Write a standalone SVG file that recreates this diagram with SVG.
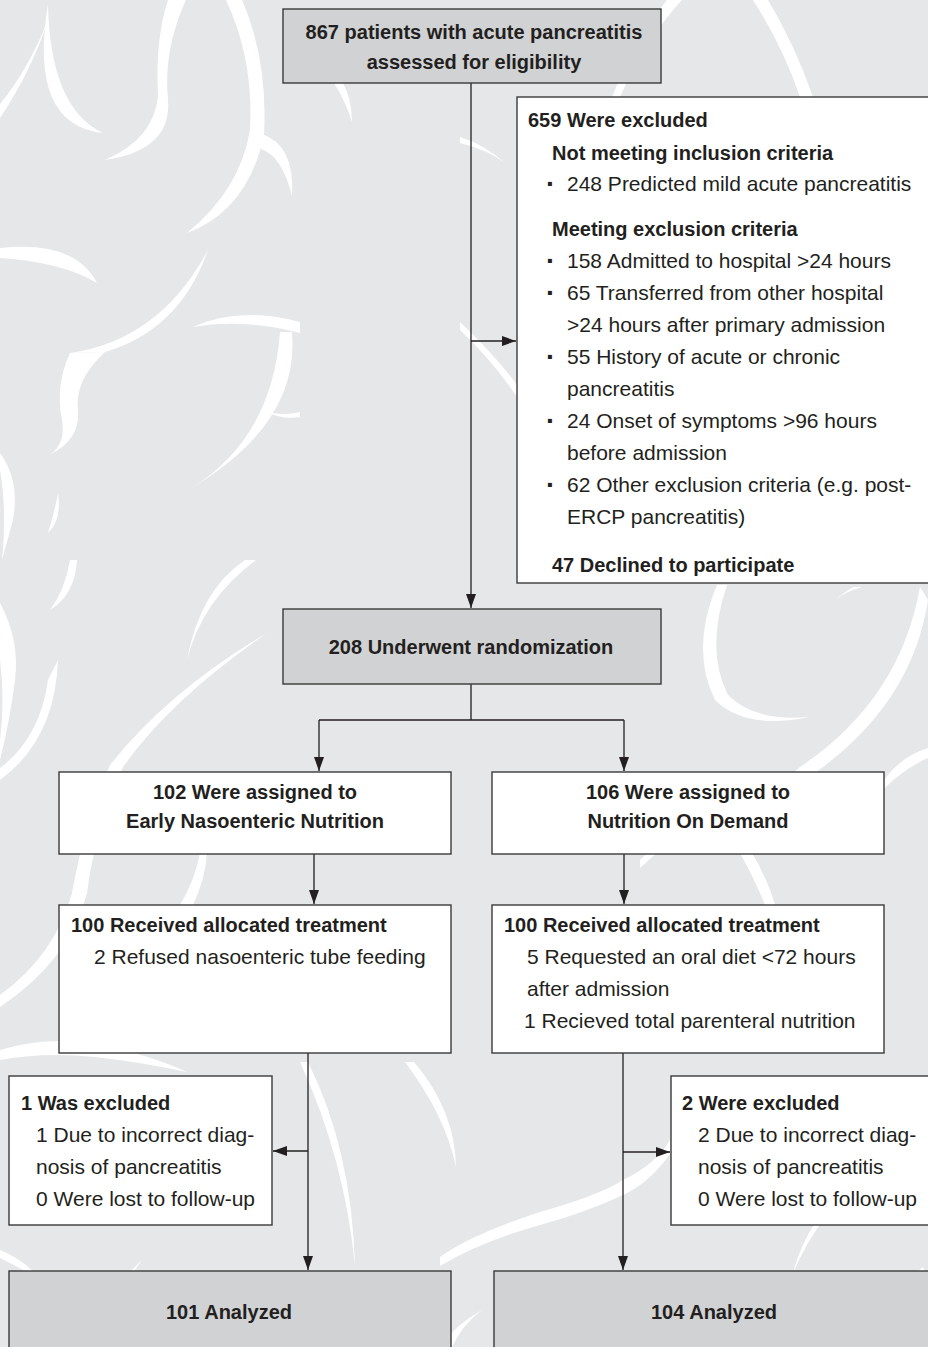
<svg xmlns="http://www.w3.org/2000/svg" width="928" height="1347" viewBox="0 0 928 1347">
<style>
.bg{fill:#e6e7e8}
.sw{fill:#ffffff}
.box{fill:#ffffff;stroke:#3a3a3a;stroke-width:1.4}
.gbox{fill:#d1d2d4;stroke:#3a3a3a;stroke-width:1.4}
.b{font-family:"Liberation Sans",Arial,sans-serif;font-weight:bold;font-size:20px;fill:#231f20}
.r{font-family:"Liberation Sans",Arial,sans-serif;font-size:21px;fill:#231f20}
.d{font-family:"Liberation Sans",Arial,sans-serif;font-weight:bold;font-size:28px;fill:#231f20}
.c{text-anchor:middle}
.ln{fill:none;stroke:#231f20;stroke-width:1.3}
</style>
<defs>
<marker id="ah" viewBox="0 0 14 10" refX="14" refY="5" markerWidth="14" markerHeight="10" markerUnits="userSpaceOnUse" orient="auto">
<path d="M0,0 L14,5 L0,10 Z" fill="#231f20"/>
</marker>
</defs>
<rect class="bg" x="0" y="0" width="928" height="1347"/>
<g id="background">
<path class="sw" d="M48,4 Q28,125 103,133 Q50,108 48,4Z"/>
<path class="sw" d="M48,20 Q32,70 0,118 L0,104 Q28,70 48,20Z"/>
<path class="sw" d="M168,0 L186,0 Q163,50 168,100 Q172,150 105,160 Q155,138 158,95 Q155,40 168,0Z"/>
<path class="sw" d="M226,0 L242,0 Q268,60 264,135 Q248,210 187,233 Q240,190 250,130 Q254,60 226,0Z"/>
<path class="sw" d="M262,134 Q295,145 292,196 Q282,156 261,149Z"/>
<path class="sw" d="M0,248 Q75,240 97,283 Q62,262 0,258Z"/>
<path class="sw" d="M208,250 Q180,330 105,352 L70,353 Q160,340 208,250Z"/>
<path class="sw" d="M70,353 Q55,385 62,420 Q66,445 49,455 Q80,440 78,412 Q74,380 105,352Z"/>
<path class="sw" d="M193,327 Q240,306 300,322 L300,333 Q240,318 193,327Z"/>
<path class="sw" d="M292,332 Q300,425 188,490 Q272,440 280,332Z"/>
<path class="sw" d="M267,412 Q285,416 300,412 L300,417 Q283,420 267,412Z"/>
<path class="sw" d="M0,453 Q20,480 13,520 L2,560 Q7,510 0,470Z"/>
<path class="sw" d="M58,493 Q62,520 48,533 Q55,510 58,493Z"/>
<path class="sw" d="M77,560 Q75,595 50,610 Q65,590 70,560Z"/>
<path class="sw" d="M0,603 Q20,640 15,680 Q10,720 0,760 L0,740 Q5,700 0,660Z"/>
<path class="sw" d="M58,660 Q55,740 0,780 L0,768 Q40,738 48,680Z"/>
<path class="sw" d="M245,560 Q200,590 187,660 Q202,600 256,560Z"/>
<path class="sw" d="M267,633 Q170,700 123,767 Q95,830 87,893 Q70,960 0,1007 L0,995 Q55,955 72,893 Q85,820 110,765 Q170,690 267,633Z"/>
<path class="sw" d="M200,853 Q195,880 180,905 L193,905 Q205,880 207,853Z"/>
<path class="sw" d="M0,1050 Q50,1035 100,1045 Q150,1055 187,1072 Q140,1062 95,1057 Q45,1052 0,1060Z"/>
<path class="sw" d="M717,585 Q690,650 715,700 Q745,730 810,717 Q755,722 728,695 Q705,650 727,585Z"/>
<path class="sw" d="M853,587 Q840,595 827,607 Q842,592 862,587Z"/>
<path class="sw" d="M920,587 Q900,700 800,767 Q760,800 740,853 L752,853 Q775,805 812,775 Q912,705 928,600Z"/>
<path class="sw" d="M928,748 Q890,760 873,800 Q900,770 928,758Z"/>
<path class="sw" d="M740,853 L752,853 Q768,880 775,905 L765,905 Q755,880 740,853Z"/>
<path class="sw" d="M640,860 Q660,840 680,833 Q665,845 640,868Z"/>
<path class="sw" d="M440,1257 Q470,1235 540,1212 Q600,1195 623,1180 Q655,1165 670,1140 L670,1154 Q650,1182 625,1194 Q590,1211 540,1225 Q480,1242 440,1266Z"/>
<path class="sw" d="M414,1062 Q455,1110 456,1167 Q445,1115 405,1062Z"/>
<path class="sw" d="M308,1062 Q352,1150 355,1267 Q345,1160 300,1062Z"/>
<path class="sw" d="M482,1310 Q462,1325 452,1347 L440,1347 Q455,1325 482,1310Z"/>
<path class="sw" d="M142,1260 Q100,1300 77,1347 L90,1347 Q110,1305 142,1260Z"/>
<path class="sw" d="M0,1250 Q25,1260 41,1280 Q20,1268 0,1258Z"/>
<path class="sw" d="M817,1220 Q800,1245 793,1273 Q805,1245 823,1220Z"/>
<path class="sw" d="M923,1267 Q880,1300 852,1347 L866,1347 Q890,1305 928,1280Z"/>
<path class="sw" d="M667,0 L682,0 Q645,40 620,97 L612,97 Q635,40 667,0Z"/>
<path class="sw" d="M753,0 L768,0 Q795,45 813,97 L800,97 Q782,45 753,0Z"/>
<path class="sw" d="M343,83 Q352,100 352,122 Q345,100 334,83Z"/>
<path class="sw" d="M460,137 Q485,145 505,163 Q488,150 460,143Z"/>
<path class="sw" d="M460,330 Q492,360 517,397 L517,385 Q495,355 460,322Z"/>
</g>
<g id="connectors">
<path class="ln" d="M471,83 V608" marker-end="url(#ah)"/>
<path class="ln" d="M471,341 H516" marker-end="url(#ah)"/>
<path class="ln" d="M471,684 V720 M319,720 H624"/>
<path class="ln" d="M319,720 V771" marker-end="url(#ah)"/>
<path class="ln" d="M624,720 V771" marker-end="url(#ah)"/>
<path class="ln" d="M314,854 V904" marker-end="url(#ah)"/>
<path class="ln" d="M624,854 V904" marker-end="url(#ah)"/>
<path class="ln" d="M308,1053 V1270" marker-end="url(#ah)"/>
<path class="ln" d="M308,1151 H273" marker-end="url(#ah)"/>
<path class="ln" d="M623,1053 V1270" marker-end="url(#ah)"/>
<path class="ln" d="M623,1152 H670" marker-end="url(#ah)"/>
</g>
<g id="n_assessed">
<rect class="gbox" x="283" y="9" width="378" height="74"/>
<text class="b c" x="474" y="39">867 patients with acute pancreatitis</text>
<text class="b c" x="474" y="69">assessed for eligibility</text>
</g>
<g id="n_excluded">
<rect class="box" x="517" y="97" width="420" height="486"/>
<text class="b" x="528" y="127">659 Were excluded</text>
<text class="b" x="552" y="160">Not meeting inclusion criteria</text>
<text class="d" x="546" y="193">·</text><text class="r" x="567" y="191">248 Predicted mild acute pancreatitis</text>
<text class="b" x="552" y="236">Meeting exclusion criteria</text>
<text class="d" x="546" y="270">·</text><text class="r" x="567" y="268">158 Admitted to hospital &gt;24 hours</text>
<text class="d" x="546" y="302">·</text><text class="r" x="567" y="300">65 Transferred from other hospital</text>
<text class="r" x="567" y="332">&gt;24 hours after primary admission</text>
<text class="d" x="546" y="366">·</text><text class="r" x="567" y="364">55 History of acute or chronic</text>
<text class="r" x="567" y="396">pancreatitis</text>
<text class="d" x="546" y="430">·</text><text class="r" x="567" y="428">24 Onset of symptoms &gt;96 hours</text>
<text class="r" x="567" y="460">before admission</text>
<text class="d" x="546" y="494">·</text><text class="r" x="567" y="492">62 Other exclusion criteria (e.g. post-</text>
<text class="r" x="567" y="524">ERCP pancreatitis)</text>
<text class="b" x="552" y="572">47 Declined to participate</text>
</g>
<g id="n_random">
<rect class="gbox" x="283" y="609" width="378" height="75"/>
<text class="b c" x="471" y="654">208 Underwent randomization</text>
</g>
<g id="n_assign_enn">
<rect class="box" x="59" y="772" width="392" height="82"/>
<text class="b c" x="255" y="799">102 Were assigned to</text>
<text class="b c" x="255" y="828">Early Nasoenteric Nutrition</text>
</g>
<g id="n_assign_od">
<rect class="box" x="492" y="772" width="392" height="82"/>
<text class="b c" x="688" y="799">106 Were assigned to</text>
<text class="b c" x="688" y="828">Nutrition On Demand</text>
</g>
<g id="n_recv_enn">
<rect class="box" x="59" y="905" width="392" height="148"/>
<text class="b" x="71" y="932">100 Received allocated treatment</text>
<text class="r" x="94" y="964">2 Refused nasoenteric tube feeding</text>
</g>
<g id="n_recv_od">
<rect class="box" x="492" y="905" width="392" height="148"/>
<text class="b" x="504" y="932">100 Received allocated treatment</text>
<text class="r" x="527" y="964">5 Requested an oral diet &lt;72 hours</text>
<text class="r" x="527" y="996">after admission</text>
<text class="r" x="524" y="1028">1 Recieved total parenteral nutrition</text>
</g>
<g id="n_excl_enn">
<rect class="box" x="9" y="1076" width="263" height="149"/>
<text class="b" x="21" y="1110">1 Was excluded</text>
<text class="r" x="36" y="1142">1 Due to incorrect diag-</text>
<text class="r" x="36" y="1174">nosis of pancreatitis</text>
<text class="r" x="36" y="1206">0 Were lost to follow-up</text>
</g>
<g id="n_excl_od">
<rect class="box" x="671" y="1076" width="270" height="149"/>
<text class="b" x="682" y="1110">2 Were excluded</text>
<text class="r" x="698" y="1142">2 Due to incorrect diag-</text>
<text class="r" x="698" y="1174">nosis of pancreatitis</text>
<text class="r" x="698" y="1206">0 Were lost to follow-up</text>
</g>
<g id="n_anal_enn">
<rect class="gbox" x="9" y="1271" width="442" height="90"/>
<text class="b c" x="229" y="1319">101 Analyzed</text>
</g>
<g id="n_anal_od">
<rect class="gbox" x="494" y="1271" width="450" height="90"/>
<text class="b c" x="714" y="1319">104 Analyzed</text>
</g>
</svg>
